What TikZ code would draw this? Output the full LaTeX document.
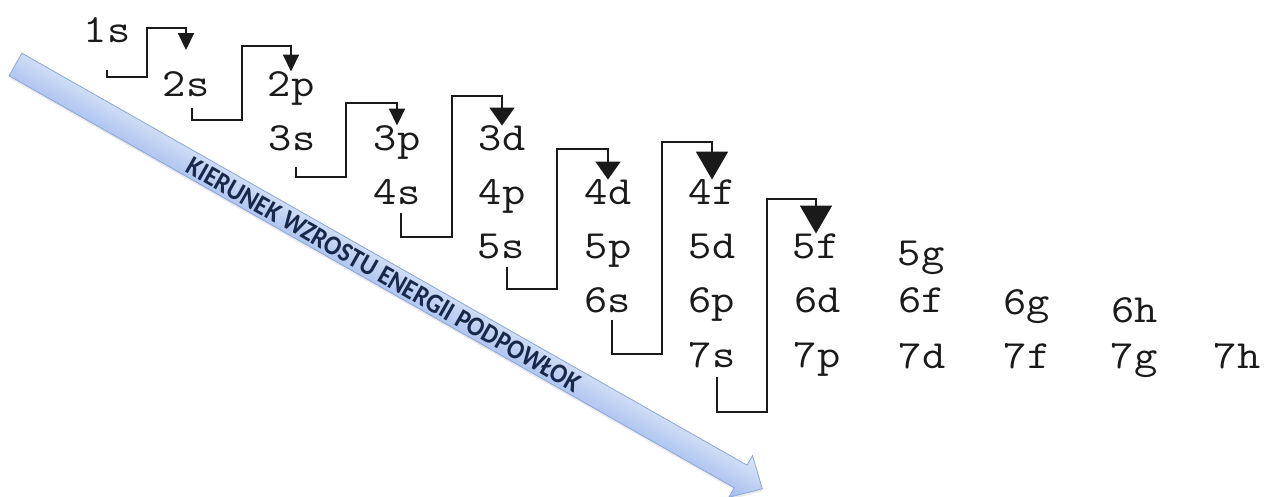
\documentclass[tikz,border=0pt]{standalone}
\usepackage{fontspec}
\usetikzlibrary{arrows.meta}
\newfontfamily\capf{Carlito}
\definecolor{arrtop}{HTML}{DCE6F8}
\definecolor{arrbot}{HTML}{A3BCEF}
\definecolor{arredge}{HTML}{8AA6D8}
\definecolor{arrtext}{HTML}{17284A}
\definecolor{linec}{HTML}{1A1A1A}
\newcommand{\orbtxt}[1]{\scalebox{1.13}[1]{#1}}
\tikzset{
  orb/.style={font=\ttfamily\fontsize{40}{40}\selectfont, text height=24.5pt, text depth=0pt, inner sep=0pt, anchor=center, text=linec},
  conn/.style={line width=1.8pt, draw=linec},
  tipA/.style={-{Triangle[width=16pt,length=17pt]}},
  tipB/.style={-{Triangle[width=25pt,length=18pt]}},
  tipC/.style={-{Triangle[width=32pt,length=28pt]}},
}
\begin{document}
\begin{tikzpicture}[x=1pt,y=-1pt]
\useasboundingbox (0,0) rectangle (1266,497);
\fill[white] (0,0) rectangle (1266,497);

% direction arrow
\begin{scope}[transform canvas={shift={(15.5pt,-64.5pt)},rotate=-29.6}]
  \fill[black!8] (1.5,-11) -- (835.5,-11) -- (835.5,-22) -- (860.5,2) -- (835.5,26) -- (835.5,15) -- (1.5,15) -- cycle;
  \path[draw=arredge, line width=0.8pt, top color=arrtop, bottom color=arrbot]
    (0,-13) -- (834,-13) -- (834,-24) -- (859,0) -- (834,24) -- (834,13) -- (0,13) -- cycle;
  \node[inner sep=0pt, text=arrtext] (lbl) at (424,0.5)
    {\resizebox{448pt}{18pt}{\capf\bfseries KIERUNEK WZROSTU ENERGII PODPOWŁOK}};
\end{scope}

% orbitals
\node[orb] (n1s) at (107,30) {\orbtxt{1s}};
\node[orb] (n2s) at (186,84) {\orbtxt{2s}};
\node[orb] (n2p) at (291,84) {\orbtxt{2p}};
\node[orb] (n3s) at (292,138) {\orbtxt{3s}};
\node[orb] (n3p) at (397,138) {\orbtxt{3p}};
\node[orb] (n3d) at (502,138) {\orbtxt{3d}};
\node[orb] (n4s) at (397,192) {\orbtxt{4s}};
\node[orb] (n4p) at (502,192) {\orbtxt{4p}};
\node[orb] (n4d) at (608,192) {\orbtxt{4d}};
\node[orb] (n4f) at (712,192) {\orbtxt{4f}};
\node[orb] (n5s) at (501,246) {\orbtxt{5s}};
\node[orb] (n5p) at (608,246) {\orbtxt{5p}};
\node[orb] (n5d) at (712,246) {\orbtxt{5d}};
\node[orb] (n5f) at (816,246) {\orbtxt{5f}};
\node[orb] (n5g) at (921,253) {\orbtxt{5g}};
\node[orb] (n6s) at (608,300) {\orbtxt{6s}};
\node[orb] (n6p) at (712,300) {\orbtxt{6p}};
\node[orb] (n6d) at (818,300) {\orbtxt{6d}};
\node[orb] (n6f) at (922,300) {\orbtxt{6f}};
\node[orb] (n6g) at (1027,302) {\orbtxt{6g}};
\node[orb] (n6h) at (1135,310) {\orbtxt{6h}};
\node[orb] (n7s) at (712,355) {\orbtxt{7s}};
\node[orb] (n7p) at (817,355) {\orbtxt{7p}};
\node[orb] (n7d) at (922,356) {\orbtxt{7d}};
\node[orb] (n7f) at (1027,356) {\orbtxt{7f}};
\node[orb] (n7g) at (1134,356) {\orbtxt{7g}};
\node[orb] (n7h) at (1237,356) {\orbtxt{7h}};

% connectors
\draw[conn,tipA] ([yshift=-27.5pt]n1s.south) -- ++(0,7) -- ++(40,0) -- ++(0,-49) -| ([yshift=21.5pt]n2s.north);
\draw[conn,tipA] ([xshift=6pt,yshift=-11.5pt]n2s.south) -- ++(0,12) -- ++(50,0) -- ++(0,-74) -| (n2p.north);
\draw[conn,tipA] ([xshift=4pt,yshift=-16.5pt]n3s.south) -- ++(0,10) -- ++(50,0) -- ++(0,-74) -| (n3p.north);
\draw[conn,tipB] ([xshift=4pt,yshift=-8.5pt]n4s.south) -- ++(0,24) -- ++(51,0) -- ++(0,-141) -| (n3d.north);
\draw[conn,tipB] ([xshift=6pt,yshift=-8.5pt]n5s.south) -- ++(0,22) -- ++(50,0) -- ++(0,-140) -| (n4d.north);
\draw[conn,tipC] ([xshift=4pt,yshift=-7.5pt]n6s.south) -- ++(0,34) -- ++(50,0) -- ++(0,-212) -| (n4f.north);
\draw[conn,tipC] ([xshift=5pt,yshift=-9.5pt]n7s.south) -- ++(0,35) -- ++(50,0) -- ++(0,-213) -| (n5f.north);
\end{tikzpicture}
\end{document}
